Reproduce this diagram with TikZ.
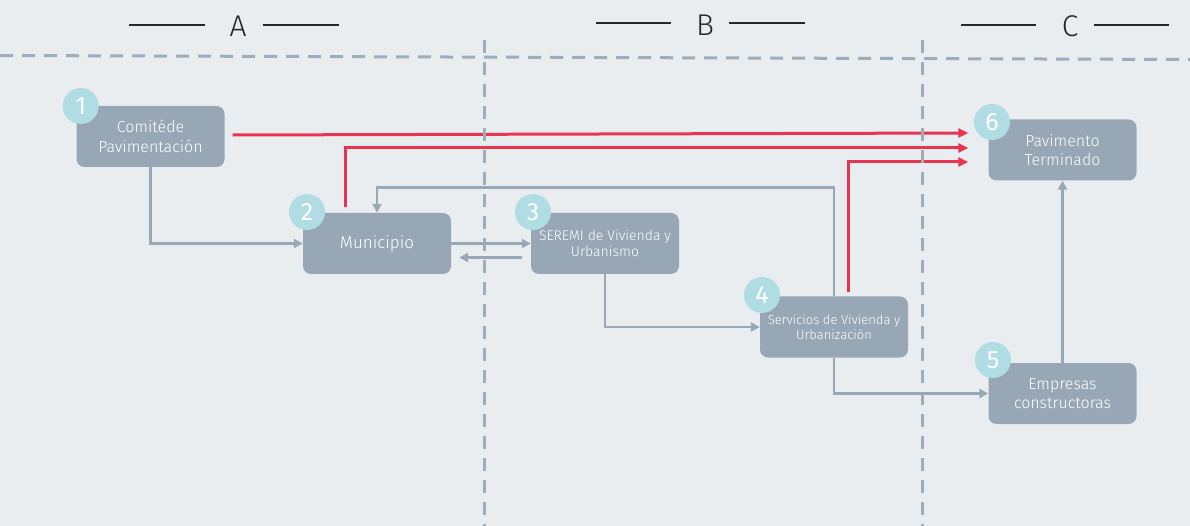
\documentclass[tikz,border=0pt]{standalone}
\usepackage{fontspec}
\setmainfont{Fira Sans}[UprightFont=* Light]
\newfontfamily\numfont{Fira Sans}
\usetikzlibrary{arrows.meta,calc,backgrounds}
\definecolor{bg}{RGB}{233,237,240}
\definecolor{boxc}{RGB}{151,167,182}
\definecolor{numc}{RGB}{176,221,227}
\definecolor{linec}{RGB}{152,168,183}
\definecolor{redc}{RGB}{232,52,80}
\definecolor{dashc}{RGB}{158,173,187}
\begin{document}
\begin{tikzpicture}[x=1pt,y=-1pt,
 box/.style={fill=boxc,rounded corners=8pt,minimum width=148pt,minimum height=61pt,text=white,align=center,inner sep=0pt},
 num/.style={circle,fill=numc,minimum size=36pt,inner sep=0pt,text=white,font=\numfont\fontsize{25}{25}\selectfont},
 gc/.style={draw=linec,line width=2.5pt,-{Triangle[length=9pt,width=9pt]}},
 rc/.style={draw=redc,line width=3pt,-{Triangle[length=10pt,width=9pt]}},
 sep/.style={draw=dashc,line width=3pt,dash pattern=on 13pt off 9pt},
 hdr/.style={draw=black!85,line width=1.4pt},
 lab/.style={font=\fontsize{30}{30}\selectfont,text=black!85,inner sep=0pt}
]
\useasboundingbox (0,0) rectangle (1190,526);

% boxes
\node[box,font=\fontsize{16}{20}\selectfont] (b1) at (150.5,136.5) {Comitéde\\Pavimentación};
\node[box,font=\fontsize{17}{20}\selectfont] (b2) at (377,243.5) {Municipio};
\node[box,font=\fontsize{14}{15.5}\selectfont] (b3) at (605,243.5) {SEREMI de Vivienda y\\Urbanismo};
\node[box,font=\fontsize{13}{14.5}\selectfont] (b4) at (834,327) {Servicios de Vivienda y\\Urbanización};
\node[box,font=\fontsize{16}{19.5}\selectfont] (b5) at (1062.5,393.5) {Empresas\\constructoras};
\node[box,font=\fontsize{16}{19.5}\selectfont] (b6) at (1062.5,150) {Pavimento\\Terminado};

% number badges
\node[num] (n1) at (80.7,106) {1};
\node[num] (n2) at (307,212) {2};
\node[num] (n3) at (533,212) {3};
\node[num] (n4) at (762,295) {4};
\node[num] (n5) at (993,360) {5};
\node[num] (n6) at (992,122) {6};

% header
\node[lab] (la) at (238,26) {A};
\node[lab] (lb) at (705,25) {B};
\node[lab] (lc) at (1070,26) {C};
\draw[hdr] (129,25) -- (205,25);
\draw[hdr] (263,25) -- (339,25);
\draw[hdr] (596,23) -- (671,23);
\draw[hdr] (729,23) -- (805,23);
\draw[hdr] (961,25) -- (1036,25);
\draw[hdr] (1094,25) -- (1169,25);

\begin{pgfonlayer}{background}
\fill[bg] (0,0) rectangle (1190,526);
% gray connectors
\draw[gc] (b1.south) |- (b2.west);
\draw[gc] (b2.east) -- (b3.west);
\coordinate (l1) at ([xshift=-9pt,yshift=-14pt]b3.west);
\coordinate (l2) at ([xshift=8pt,yshift=-14pt]b2.east);
\draw[gc] (l1) -- (l2);
\draw[gc] (b3.south) |- (b4.west);
\coordinate (top) at (0,187.5);
\draw[gc] (b4.north) -- (b4.north |- top) -| (b2.north);
\draw[gc] (b4.south) |- (b5.west);
\draw[gc] (b5.north) -- (b6.south);
% red connectors
\coordinate (r1s) at ([xshift=8pt,yshift=1.5pt]b1.east);
\coordinate (r1e) at ([xshift=-20pt,yshift=17pt]b6.west);
\draw[rc] (r1s) -- (r1e);
\coordinate (r2s) at ([xshift=-32pt,yshift=6pt]b2.north);
\coordinate (r2e) at ([xshift=-20pt,yshift=2pt]b6.west);
\draw[rc] (r2s) |- (r2e);
\coordinate (r3s) at ([xshift=14pt,yshift=4pt]b4.north);
\coordinate (r3e) at ([xshift=-20pt,yshift=-12pt]b6.west);
\draw[rc] (r3s) |- (r3e);
% dashed separators
\draw[sep] (0,55.5) -- (1190,59.5);
\draw[sep] (484.5,40) -- (484.5,526);
\draw[sep] (922,40) -- (922,526);
\end{pgfonlayer}
\end{tikzpicture}
\end{document}
